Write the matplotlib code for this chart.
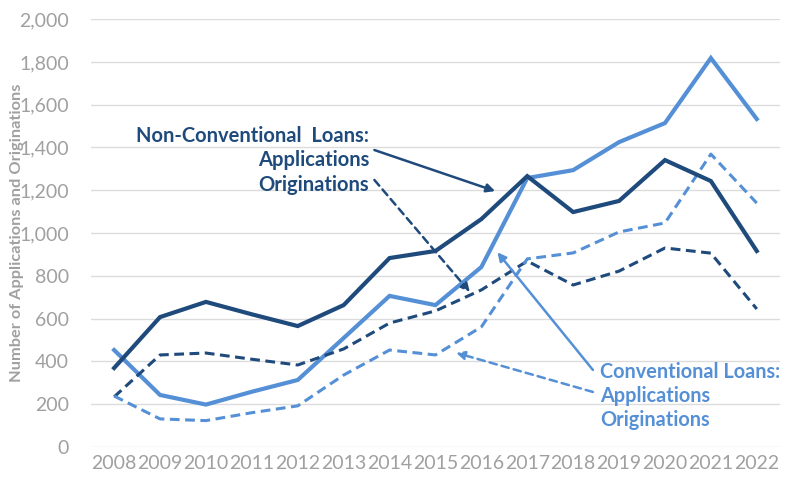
import matplotlib
matplotlib.use("Agg")
import matplotlib.pyplot as plt

years = [2008, 2009, 2010, 2011, 2012, 2013, 2014, 2015, 2016, 2017, 2018, 2019, 2020, 2021, 2022]
nonconv_apps = [369, 607, 678, 620, 565, 663, 883, 916, 1065, 1266, 1098, 1150, 1341, 1243, 916]
nonconv_origs = [234, 430, 439, 410, 383, 458, 579, 636, 734, 869, 757, 822, 930, 906, 645]
conv_apps = [453, 243, 198, 258, 313, 509, 706, 663, 841, 1257, 1294, 1425, 1514, 1818, 1533]
conv_origs = [238, 131, 123, 160, 192, 336, 453, 430, 561, 879, 907, 1005, 1047, 1369, 1140]
y_ticks = [0, 200, 400, 600, 800, 1000, 1200, 1400, 1600, 1800, 2000]

DARK = "#1f4a7c"
LIGHT = "#5590d6"
GREY = "#a0a0a0"

plt.rcParams["font.family"] = ["Lato", "DejaVu Sans"]

fig = plt.figure(figsize=(7.86, 4.78), dpi=100)
ax = fig.add_axes([0.116, 0.065, 0.876, 0.895])

ax.plot(years, nonconv_apps, color=DARK, lw=3.0, solid_joinstyle="miter", zorder=4)
ax.plot(years, conv_apps, color=LIGHT, lw=3.0, solid_joinstyle="miter", zorder=3)
ax.plot(years, nonconv_origs, color=DARK, lw=2.2, ls=(0, (3.2, 1.8)), zorder=3)
ax.plot(years, conv_origs, color=LIGHT, lw=2.2, ls=(0, (3.2, 1.8)), zorder=3)

ax.set_xlim(2007.5, 2022.5)
ax.set_ylim(0, 2000)
ax.set_xticks(years)
ax.set_xticklabels([str(y) for y in years])
ax.set_yticks(y_ticks)
ax.set_yticklabels([f"{v:,}" for v in y_ticks])
ax.tick_params(length=0, labelsize=14, colors=GREY, pad=6)
ax.tick_params(axis="y", pad=16)
ax.grid(axis="y", color="#dcdcdc", lw=1.0)
ax.set_axisbelow(True)
for s in ax.spines.values():
    s.set_visible(False)

fig.text(17 / 786, 0.5125, "Number of Applications and Originations", color=GREY,
         fontsize=11.8, fontweight="bold", rotation=90, ha="center", va="center")

arrow_kw = dict(arrowstyle="-|>,head_length=0.5,head_width=0.25",
                lw=1.8, shrinkA=0, shrinkB=0)

# Non-conventional annotation
ax.text(2013.56, 1500, "Non-Conventional  Loans:\nApplications\nOriginations",
        ha="right", va="top", color=DARK, fontsize=14.5, fontweight="bold",
        linespacing=1.27, zorder=6)
ax.annotate("", xy=(2016.3, 1196), xytext=(2013.67, 1388),
            arrowprops=dict(color=DARK, **arrow_kw), zorder=6)
ax.annotate("", xy=(2015.75, 724), xytext=(2013.67, 1248),
            arrowprops=dict(color=DARK, ls=(0, (3, 2)), **arrow_kw), zorder=6)

# Conventional annotation
ax.text(2018.58, 398, "Conventional Loans:\nApplications\nOriginations",
        ha="left", va="top", color=LIGHT, fontsize=14.3, fontweight="bold",
        linespacing=1.25, zorder=6)
ax.annotate("", xy=(2016.35, 910), xytext=(2018.43, 360),
            arrowprops=dict(color=LIGHT, **arrow_kw), zorder=6)
ax.annotate("", xy=(2015.45, 440), xytext=(2018.43, 257),
            arrowprops=dict(color=LIGHT, ls=(0, (3, 2)), **arrow_kw), zorder=6)

fig.savefig("out.png", dpi=100, facecolor="white")
